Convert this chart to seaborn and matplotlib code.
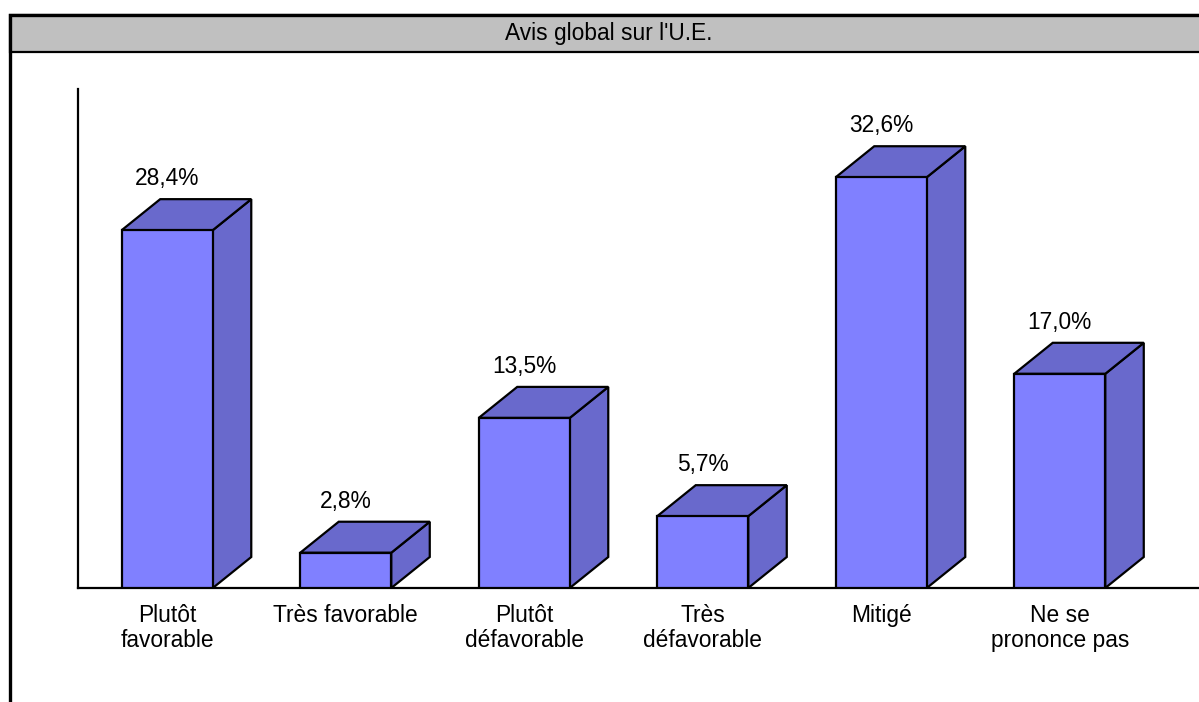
import matplotlib
matplotlib.use("Agg")
import matplotlib.pyplot as plt
from matplotlib.patches import Polygon, Rectangle
import seaborn as sns

# ---- data ----
categories = ["Plutôt\nfavorable", "Très favorable", "Plutôt\ndéfavorable",
              "Très\ndéfavorable", "Mitigé", "Ne se\nprononce pas"]
values = [28.4, 2.8, 13.5, 5.7, 32.6, 17.0]
title = "Avis global sur l'U.E."

FRONT = "#8080FF"
SIDE = "#6969CC"
W, H = 1199, 702
FS = 16.4

sns.set_style("white")
plt.rcParams["font.family"] = ["Liberation Sans", "DejaVu Sans"]

fig = plt.figure(figsize=(W / 100, H / 100), dpi=100)
fig.patch.set_facecolor("white")

# axes in pixel geometry
ax_left, ax_right, ax_top, ax_bottom = 78, 1199, 89, 588
ax = fig.add_axes([ax_left / W, (H - ax_bottom) / H,
                   (ax_right - ax_left) / W, (ax_bottom - ax_top) / H])
cat_px = 178.5
px_per_unit = 12.6

sns.barplot(x=categories, y=values, color=FRONT, saturation=1, width=0.51,
            edgecolor="black", linewidth=1.6, ax=ax, zorder=3)
ax.set_xlim(-0.5, -0.5 + (ax_right - ax_left) / cat_px)
ax.set_ylim(0, (ax_bottom - ax_top) / px_per_unit)

# 3D depth (in data units derived from pixel depth)
dx = 38.5 / cat_px
dy = 31 / px_per_unit
for p, v in zip(ax.patches, values):
    x0 = p.get_x()
    x1 = x0 + p.get_width()
    h = p.get_height()
    side = Polygon([(x1, 0), (x1 + dx, dy), (x1 + dx, h + dy), (x1, h)],
                   closed=True, facecolor=SIDE, edgecolor="black",
                   linewidth=1.6, zorder=2, joinstyle="miter")
    top = Polygon([(x0, h), (x0 + dx, h + dy), (x1 + dx, h + dy), (x1, h)],
                  closed=True, facecolor=SIDE, edgecolor="black",
                  linewidth=1.6, zorder=2, joinstyle="miter")
    ax.add_patch(side)
    ax.add_patch(top)
    ax.annotate(f"{v:.1f}%".replace(".", ","), xy=(x0 + p.get_width() / 2, h + dy),
                xytext=(0, 10), textcoords="offset points",
                ha="center", va="baseline", fontsize=FS, color="black")

# axes styling
for s in ["top", "right"]:
    ax.spines[s].set_visible(False)
for s in ["left", "bottom"]:
    ax.spines[s].set_linewidth(1.6)
    ax.spines[s].set_color("black")
    ax.spines[s].set_zorder(1)
ax.set_yticks([])
ax.set_ylabel("")
ax.set_xlabel("")
ax.set_xticks(range(len(categories)))
ax.set_xticklabels(categories, fontsize=FS, linespacing=1.12)
ax.tick_params(axis="x", which="major", length=0, pad=11.5, colors="black")
ax.set_xticks([i + 0.5 for i in range(len(categories))], minor=True)
ax.tick_params(axis="x", which="minor", length=13.5, width=1.6, direction="out",
               color="black")

# outer frame and title band
band_top, band_bottom, frame_left = 15, 52, 10
fig.add_artist(Rectangle((frame_left / W, (H - band_bottom) / H),
                         (1240 - frame_left) / W, (band_bottom - band_top) / H,
                         transform=fig.transFigure, facecolor="#C0C0C0",
                         edgecolor="black", linewidth=1.6, zorder=1))
fig.add_artist(Rectangle((frame_left / W, -0.2), (1240 - frame_left) / W,
                         1.2 - band_top / H, transform=fig.transFigure,
                         facecolor="none", edgecolor="black", linewidth=2.4,
                         zorder=2))
fig.text(609 / W, 1 - 33.5 / H, title, ha="center", va="center", fontsize=FS,
         color="black")

fig.savefig("out.png", dpi=100)
